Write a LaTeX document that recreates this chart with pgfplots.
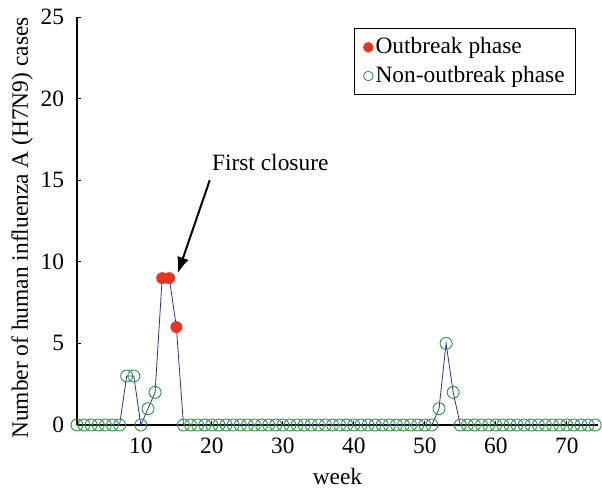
\documentclass[border=0pt]{standalone}
\usepackage{pgfplots}
\pgfplotsset{compat=1.18}
\usepackage{fontspec}
\setmainfont{Liberation Serif}
\usetikzlibrary{arrows.meta,calc}
\definecolor{navyline}{RGB}{45,45,160}
\definecolor{ogreen}{RGB}{40,150,60}
\definecolor{ored}{RGB}{235,50,35}
\pgfplotstableread{
week cases
1 0
2 0
3 0
4 0
5 0
6 0
7 0
8 3
9 3
10 0
11 1
12 2
13 9
14 9
15 6
16 0
17 0
18 0
19 0
20 0
21 0
22 0
23 0
24 0
25 0
26 0
27 0
28 0
29 0
30 0
31 0
32 0
33 0
34 0
35 0
36 0
37 0
38 0
39 0
40 0
41 0
42 0
43 0
44 0
45 0
46 0
47 0
48 0
49 0
50 0
51 0
52 1
53 5
54 2
55 0
56 0
57 0
58 0
59 0
60 0
61 0
62 0
63 0
64 0
65 0
66 0
67 0
68 0
69 0
70 0
71 0
72 0
73 0
74 0
}\alldata
\pgfplotstableread{
week cases
1 0
2 0
3 0
4 0
5 0
6 0
7 0
8 3
9 3
10 0
11 1
12 2
16 0
17 0
18 0
19 0
20 0
21 0
22 0
23 0
24 0
25 0
26 0
27 0
28 0
29 0
30 0
31 0
32 0
33 0
34 0
35 0
36 0
37 0
38 0
39 0
40 0
41 0
42 0
43 0
44 0
45 0
46 0
47 0
48 0
49 0
50 0
51 0
52 1
53 5
54 2
55 0
56 0
57 0
58 0
59 0
60 0
61 0
62 0
63 0
64 0
65 0
66 0
67 0
68 0
69 0
70 0
71 0
72 0
73 0
74 0
}\nonoutbreak
\pgfplotstableread{
week cases
13 9
14 9
15 6
}\outbreak
\begin{document}
\fontsize{23.5}{28}\selectfont
\begin{tikzpicture}
\begin{axis}[
  scale only axis,
  width=521bp, height=408bp,
  xmin=1, xmax=74.4, ymin=0, ymax=25,
  axis lines=left,
  axis line style={-, line width=1.2bp},
  tick align=inside,
  major tick length=4bp,
  tick style={black, line width=0.8bp},
  xtick={10,20,30,40,50,60,70},
  ytick={0,5,10,15,20,25},
  ticklabel style={font=\fontsize{23.5}{28}\selectfont},
  xticklabel style={yshift=-5bp},
  yticklabel style={xshift=-5bp},
  label style={font=\fontsize{23.5}{28}\selectfont},
  /pgf/number format/assume math mode=true,
  xlabel={week},
  ylabel={Number of human influenza A (H7N9) cases},
  xlabel style={yshift=1bp},
  ylabel style={yshift=-8bp, xshift=-7bp},
  clip=false,
  legend style={at={(0.958,0.973)}, anchor=north east, draw=black, line width=0.8bp,
    font=\fontsize{23.5}{28}\selectfont, inner xsep=9bp, inner ysep=7bp, row sep=5bp,
    legend cell align=left},
  legend image code/.code={\draw[#1] (0.05cm,0cm) circle (4.8bp);},
]
\addplot[navyline, line width=0.8bp, forget plot] table[x=week,y=cases]{\alldata};
\addlegendimage{only marks, draw=ored, fill=ored}
\addlegendentry{Outbreak phase}
\addlegendimage{only marks, draw=ogreen, fill=none, line width=0.8bp}
\addlegendentry{Non-outbreak phase}
\addplot[only marks, mark=o, mark size=6bp, ogreen, mark options={line width=0.9bp}, forget plot] table[x=week,y=cases]{\nonoutbreak};
\addplot[only marks, mark=*, mark size=5.7bp, ored, mark options={draw=ored, fill=ored}, forget plot] table[x=week,y=cases]{\outbreak};
\node[anchor=west, font=\fontsize{23.5}{28}\selectfont] at (axis cs:18.9,16.1) {First closure};
\draw[line width=2bp, -{Latex[length=16bp,width=12bp]}] (axis cs:19.7,15.0) -- (axis cs:15.2,9.3);
\coordinate (bl) at (rel axis cs:0,0);
\end{axis}
\pgfresetboundingbox
\path ($(bl)+(-77bp,-68bp)$) rectangle ($(bl)+(525bp,425bp)$);
\end{tikzpicture}
\end{document}
